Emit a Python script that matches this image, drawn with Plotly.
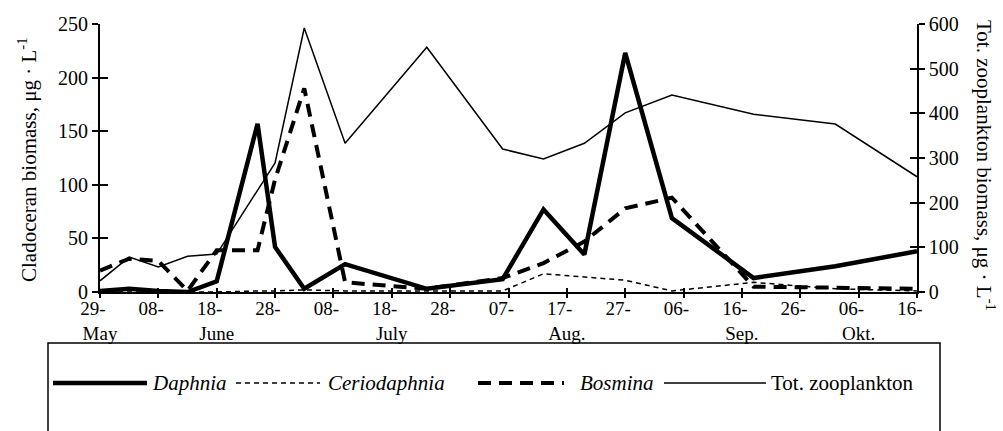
import plotly.graph_objects as go

# Sampling dates and cladoceran biomass (µg/L), left axis
sample_dates = ["1996-05-29", "1996-06-03", "1996-06-08", "1996-06-13", "1996-06-18",
                "1996-06-25", "1996-06-28", "1996-07-03", "1996-07-10", "1996-07-24",
                "1996-08-06", "1996-08-13", "1996-08-20", "1996-08-27", "1996-09-04",
                "1996-09-18", "1996-10-02", "1996-10-16"]
daphnia = [1, 3, 1, 0, 10, 157, 42, 3, 26, 3, 12, 77, 35, 223, 69, 13, 24, 38]
ceriodaphnia = [0, 0, 0, 0, 0, 1, 1, 2, 1, 1, 1, 17, 14, 11, 1, 9, 3, 1]
bosmina = [20, 31, 29, 1, 39, 39, 105, 190, 9, 3, 13, 27, 47, 78, 88, 5, 4, 3]

# Total zooplankton biomass (µg/L), right axis
total_dates = ["1996-05-29", "1996-06-03", "1996-06-08", "1996-06-13", "1996-06-18",
               "1996-06-28", "1996-07-03", "1996-07-10", "1996-07-24", "1996-08-06",
               "1996-08-13", "1996-08-20", "1996-08-27", "1996-09-04", "1996-09-18",
               "1996-10-02", "1996-10-16"]
total_zoo = [25, 78, 56, 80, 85, 289, 591, 333, 548, 320, 298, 333, 401, 441, 398, 376, 258]

# Axis ticks
tick_dates = ["1996-05-29", "1996-06-08", "1996-06-18", "1996-06-28", "1996-07-08",
              "1996-07-18", "1996-07-28", "1996-08-07", "1996-08-17", "1996-08-27",
              "1996-09-06", "1996-09-16", "1996-09-26", "1996-10-06", "1996-10-16"]
tick_days = ["29-", "08-", "18-", "28-", "08-", "18-", "28-", "07-", "17-", "27-",
             "06-", "16-", "26-", "06-", "16-"]
tick_months = ["May", "", "June", "", "", "July", "", "", "Aug.", "", "", "Sep.", "", "Okt.", ""]
left_ticks = [0, 50, 100, 150, 200, 250]
right_ticks = [0, 100, 200, 300, 400, 500, 600]

FONT = "Liberation Serif"
NB = "\u00a0"
tick_text = [d + NB * 3 + ("<br>" + m if m else "") for d, m in zip(tick_days, tick_months)]

# plot area in pixels
L, R, T, B = 100, 917, 24, 292
W, H = 1003, 431


def px_x(p):
    return (p - L) / (R - L)


def px_y(p):
    return (B - p) / (B - T)


fig = go.Figure()
fig.add_trace(go.Scatter(x=total_dates, y=total_zoo, yaxis="y2", mode="lines",
                         line=dict(color="black", width=1.5), name="Tot. zooplankton"))
fig.add_trace(go.Scatter(x=sample_dates, y=ceriodaphnia, mode="lines",
                         line=dict(color="black", width=1.5, dash="5px,4px"), name="Ceriodaphnia"))
fig.add_trace(go.Scatter(x=sample_dates, y=bosmina, mode="lines",
                         line=dict(color="black", width=4, dash="13px,8px"), name="Bosmina"))
fig.add_trace(go.Scatter(x=sample_dates, y=daphnia, mode="lines",
                         line=dict(color="black", width=4.5), name="Daphnia"))
# empty traces carrying the other half of the crossing tick marks
fig.add_trace(go.Scatter(x=[], y=[], xaxis="x2", yaxis="y3", showlegend=False))
fig.add_trace(go.Scatter(x=[], y=[], xaxis="x2", yaxis="y4", showlegend=False))

xrange = ["1996-05-29", "1996-10-16"]
tickfont = dict(family=FONT, size=20, color="black")

fig.update_layout(
    width=W, height=H,
    margin=dict(l=L, r=W - R, t=T, b=H - B),
    paper_bgcolor="white", plot_bgcolor="white",
    showlegend=False,
    font=dict(family=FONT, color="black"),
    xaxis=dict(type="date", range=xrange, tickmode="array", tickvals=tick_dates,
               ticktext=tick_text, ticks="inside", ticklen=4, tickwidth=1.5,
               tickcolor="black", showline=True, linecolor="black", linewidth=2,
               showgrid=False, zeroline=False, tickangle=0, ticklabelstandoff=-2,
               tickfont=dict(family=FONT, size=19, color="black")),
    xaxis2=dict(type="date", range=xrange, overlaying="x", side="bottom",
                tickmode="array", tickvals=tick_dates, ticks="outside", ticklen=5,
                tickwidth=1.5, tickcolor="black", showticklabels=False,
                showline=False, showgrid=False, zeroline=False),
    yaxis=dict(range=[0, 250], tickmode="array", tickvals=left_ticks,
               ticks="outside", ticklen=6, tickwidth=1.5, tickcolor="black",
               showline=True, linecolor="black", linewidth=2, showgrid=False,
               zeroline=False, tickfont=tickfont),
    yaxis2=dict(range=[0, 600], overlaying="y", side="right", tickmode="array",
                tickvals=right_ticks, ticks="outside", ticklen=6, tickwidth=1.5,
                tickcolor="black", showline=True, linecolor="black", linewidth=1.5,
                showgrid=False, zeroline=False, tickfont=tickfont),
    yaxis3=dict(range=[0, 250], overlaying="y", side="left", tickmode="array",
                tickvals=left_ticks, ticks="inside", ticklen=8, tickwidth=1.5,
                tickcolor="black", showticklabels=False, showline=False,
                showgrid=False, zeroline=False),
    yaxis4=dict(range=[0, 600], overlaying="y", side="right", tickmode="array",
                tickvals=right_ticks, ticks="inside", ticklen=7, tickwidth=1.5,
                tickcolor="black", showticklabels=False, showline=False,
                showgrid=False, zeroline=False),
)

# axis titles
fig.add_annotation(text="Cladoceran biomass, μg · L<sup>-1</sup>", xref="paper", yref="paper",
                   x=px_x(27), y=px_y(160), textangle=-90, showarrow=False,
                   xanchor="center", yanchor="middle", font=dict(family=FONT, size=21))
fig.add_annotation(text="Tot. zooplankton biomass, μg · L<sup>-1</sup>", xref="paper", yref="paper",
                   x=px_x(986), y=px_y(165), textangle=90, showarrow=False,
                   xanchor="center", yanchor="middle", font=dict(family=FONT, size=21))

# legend box
legend_y = 383
fig.add_shape(type="rect", xref="paper", yref="paper", x0=px_x(48), x1=px_x(940),
              y0=px_y(450), y1=px_y(343), line=dict(color="black", width=1.5))
legend_items = [
    ("<i>Daphnia</i>", 53, 147, dict(color="black", width=4.5), 150),
    ("<i>Ceriodaphnia</i>", 236, 320, dict(color="black", width=1.5, dash="5px,4px"), 326),
    ("<i>Bosmina</i>", 478, 564, dict(color="black", width=4, dash="13px,8px"), 578),
    ("Tot. zooplankton", 664, 766, dict(color="black", width=1.5), 769),
]
for label, x0, x1, style, tx in legend_items:
    fig.add_shape(type="line", xref="paper", yref="paper", x0=px_x(x0), x1=px_x(x1),
                  y0=px_y(legend_y), y1=px_y(legend_y), line=style)
    fig.add_annotation(text=label, xref="paper", yref="paper", x=px_x(tx), y=px_y(legend_y),
                       xanchor="left", yanchor="middle", showarrow=False,
                       font=dict(family=FONT, size=21))

fig.write_html("out.html")
